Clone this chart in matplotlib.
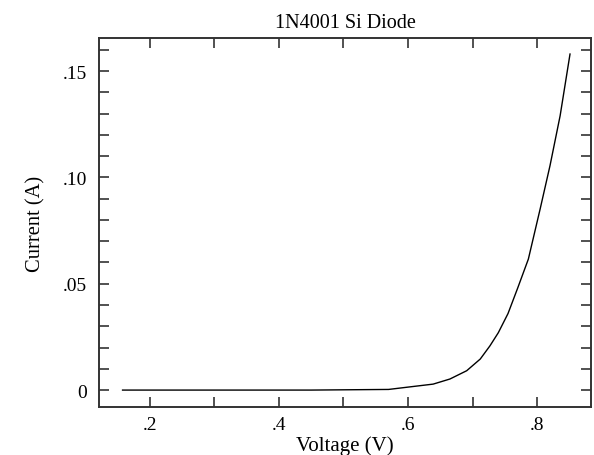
import matplotlib
matplotlib.use("Agg")
import matplotlib.pyplot as plt
from matplotlib.ticker import MultipleLocator, FixedLocator, FixedFormatter

voltage = [0.158, 0.30, 0.45, 0.57, 0.603, 0.639, 0.665, 0.691, 0.712,
           0.727, 0.74, 0.755, 0.77, 0.7865, 0.8047, 0.820, 0.8357, 0.851]
current = [0.0, 0.0, 0.0, 0.0003, 0.0015, 0.0028, 0.0052, 0.0091, 0.0146,
           0.0208, 0.027, 0.036, 0.048, 0.0616, 0.0851, 0.1055, 0.129, 0.158]

xtick_vals = [0.2, 0.4, 0.6, 0.8]
xtick_labels = ['.2', '.4', '.6', '.8']
ytick_vals = [0.0, 0.05, 0.10, 0.15]
ytick_labels = ['0', '.05', '.10', '.15']

plt.rcParams['font.family'] = ['Liberation Serif', 'DejaVu Serif']
plt.rcParams['font.size'] = 14

fig = plt.figure(figsize=(5.94, 4.56), dpi=100)
ax = fig.add_axes([0.1672, 0.1046, 0.9944 - 0.1672, 0.9138 - 0.1046])

ax.plot(voltage, current, '-', color='black', linewidth=1.0)

ax.set_xlim(0.122, 0.883)
ax.set_ylim(-0.0081, 0.1654)

ax.xaxis.set_major_locator(FixedLocator(xtick_vals))
ax.xaxis.set_major_formatter(FixedFormatter(xtick_labels))
ax.xaxis.set_minor_locator(MultipleLocator(0.1))
ax.yaxis.set_major_locator(FixedLocator(ytick_vals))
ax.yaxis.set_major_formatter(FixedFormatter(ytick_labels))
ax.yaxis.set_minor_locator(MultipleLocator(0.01))

ax.tick_params(which='both', direction='in', top=True, right=True,
               length=7.2, width=1.2, color='#333333')
ax.tick_params(axis='x', which='major', pad=6)
ax.tick_params(axis='y', which='major', pad=9)

for s in ax.spines.values():
    s.set_linewidth(1.4)
    s.set_color('#333333')

ax.set_xlabel('Voltage (V)', fontsize=15, labelpad=2)
ax.set_ylabel('Current (A)', fontsize=14.8, labelpad=12)
ax.set_title('1N4001 Si Diode', fontsize=14.5, pad=8)

plt.savefig('out.png', dpi=100)
